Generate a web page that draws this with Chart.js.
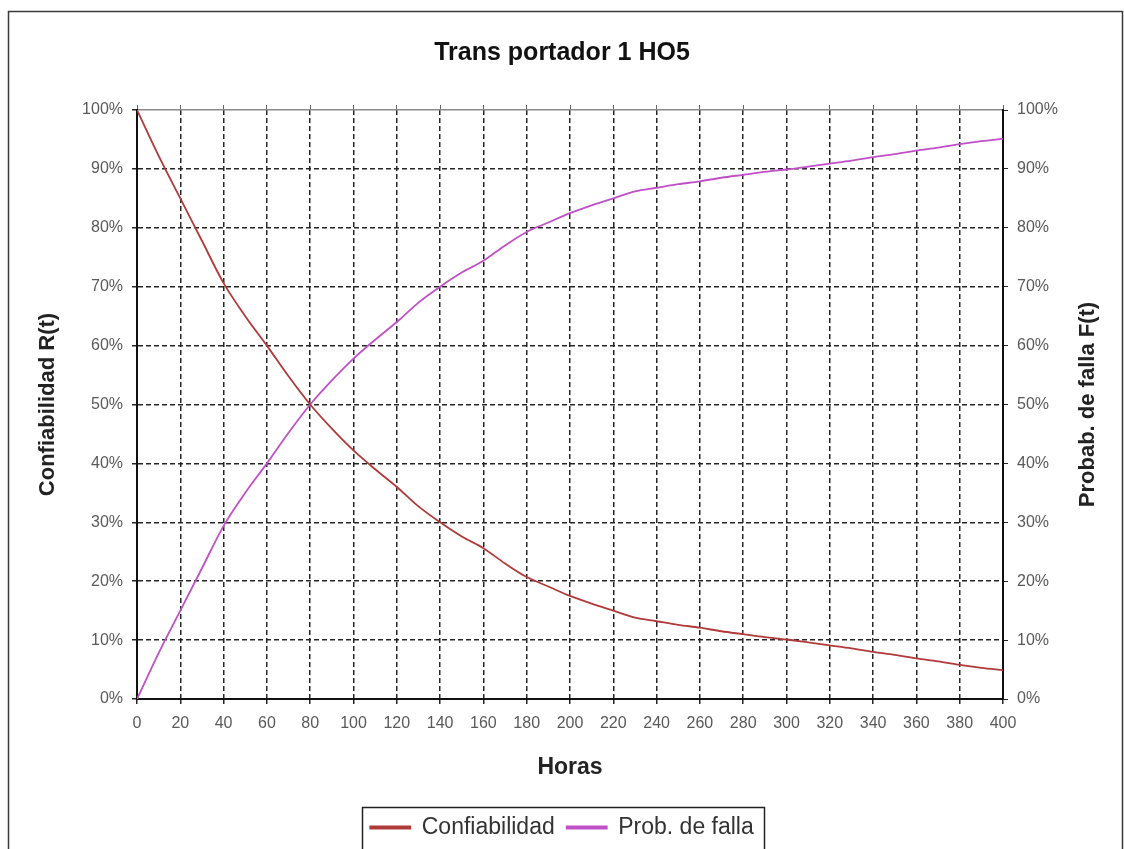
<!DOCTYPE html>
<html>
<head>
<meta charset="utf-8">
<script src="https://cdn.jsdelivr.net/npm/chart.js@4"></script>
<style>
    html, body { margin: 0; padding: 0; background: #fff; }
    canvas { display: block; }
</style>
</head>
<body>
<canvas id="curvas" width="1124" height="849"></canvas>
<script>
const horas = [0, 10, 20, 30, 40, 50, 60, 70, 80, 90, 100, 110, 120, 130, 140, 150, 160, 170, 180, 190, 200,
    210, 220, 230, 240, 250, 260, 270, 280, 290, 300, 310, 320, 330, 340, 350, 360, 370, 380, 390, 400];

const confiabilidad = [100, 92.2, 85.0, 77.8, 70.6, 65.0, 60.0, 54.8, 50.0, 45.9, 42.2, 39.0, 36.0, 32.7, 30.0,
    27.6, 25.6, 23.0, 20.7, 19.1, 17.5, 16.2, 15.0, 13.8, 13.2, 12.6, 12.1, 11.5, 11.0, 10.5, 10.1,
    9.6, 9.1, 8.6, 8.0, 7.5, 6.9, 6.4, 5.8, 5.3, 4.9];

const probFalla = [0, 7.8, 15.0, 22.2, 29.4, 35.0, 40.0, 45.2, 50.0, 54.1, 57.8, 61.0, 64.0, 67.3, 70.0,
    72.4, 74.4, 77.0, 79.3, 80.9, 82.5, 83.8, 85.0, 86.2, 86.8, 87.4, 87.9, 88.5, 89.0, 89.5, 89.9,
    90.4, 90.9, 91.4, 92.0, 92.5, 93.1, 93.6, 94.2, 94.7, 95.1];

const titulo = 'Trans portador 1 HO5';
const tituloX = 'Horas';
const tituloY = 'Confiabilidad R(t)';
const tituloY1 = 'Probab. de falla F(t)';

const FONT = "'Liberation Sans', Arial, sans-serif";
const GRID = '#262626';
const TICK_TEXT = '#5a5a5a';

const toPoints = (xs, ys) => xs.map((x, i) => ({ x: x, y: ys[i] }));

// outer frame of the chart object
const framePlugin = {
    id: 'frame',
    beforeDraw(chart) {
        const ctx = chart.ctx;
        ctx.save();
        ctx.fillStyle = '#fff';
        ctx.fillRect(0, 0, chart.width, chart.height);
        ctx.strokeStyle = '#3a3a3a';
        ctx.lineWidth = 1.5;
        ctx.strokeRect(8.5, 11.5, 1114, 900);
        ctx.restore();
    }
};

// box around legend + right axis title reading upwards
const extrasPlugin = {
    id: 'extras',
    afterDraw(chart) {
        const ctx = chart.ctx;
        const lg = chart.legend;
        if (lg && lg.legendHitBoxes && lg.legendHitBoxes.length) {
            const boxes = lg.legendHitBoxes;
            const left = Math.min(...boxes.map(b => b.left)) - 8;
            const right = Math.max(...boxes.map(b => b.left + b.width)) + 10;
            const cy = boxes[0].top + boxes[0].height / 2;
            ctx.save();
            ctx.strokeStyle = '#222';
            ctx.lineWidth = 1.5;
            ctx.strokeRect(Math.round(left) + 0.5, Math.round(cy - 21) + 0.5, Math.round(right - left), 60);
            ctx.restore();
        }

        const area = chart.chartArea;
        ctx.save();
        ctx.translate(1088, (area.top + area.bottom) / 2);
        ctx.rotate(-Math.PI / 2);
        ctx.font = 'bold 22px ' + FONT;
        ctx.fillStyle = '#222';
        ctx.textAlign = 'center';
        ctx.textBaseline = 'middle';
        ctx.fillText(tituloY1, 0, 0);
        ctx.restore();
    }
};

const ctx = document.getElementById('curvas').getContext('2d');

new Chart(ctx, {
    type: 'line',
    data: {
        datasets: [
            {
                label: 'Confiabilidad',
                data: toPoints(horas, confiabilidad),
                borderColor: '#b03a3a',
                backgroundColor: '#b03a3a',
                borderWidth: 1.8,
                pointRadius: 0,
                cubicInterpolationMode: 'monotone',
                yAxisID: 'y'
            },
            {
                label: 'Prob. de falla',
                data: toPoints(horas, probFalla),
                borderColor: '#c050c8',
                backgroundColor: '#c050c8',
                borderWidth: 1.8,
                pointRadius: 0,
                cubicInterpolationMode: 'monotone',
                yAxisID: 'y1'
            }
        ]
    },
    options: {
        responsive: false,
        animation: false,
        devicePixelRatio: 1,
        layout: { padding: 0 },
        plugins: {
            title: {
                display: true,
                text: titulo,
                color: '#111',
                font: { family: FONT, size: 25, weight: 'bold' },
                padding: { top: 38, bottom: 42 }
            },
            legend: {
                display: true,
                position: 'bottom',
                labels: {
                    color: '#333',
                    font: { family: FONT, size: 23 },
                    boxWidth: 40,
                    boxHeight: 2,
                    padding: 12
                }
            },
            tooltip: { enabled: false }
        },
        scales: {
            x: {
                type: 'linear',
                position: 'bottom',
                min: 0,
                max: 400,
                afterFit(scale) { scale.height = 105; },
                ticks: {
                    stepSize: 20,
                    color: TICK_TEXT,
                    font: { family: FONT, size: 16 },
                    padding: 10,
                    maxRotation: 0
                },
                grid: {
                    color: GRID,
                    lineWidth: 1.5,
                    tickColor: GRID,
                    tickLength: 5
                },
                border: { display: true, color: '#111', width: 2, dash: [5, 3] },
                title: {
                    display: true,
                    text: tituloX,
                    color: '#222',
                    font: { family: FONT, size: 23, weight: 'bold' },
                    padding: { top: 0, bottom: 23 }
                }
            },
            x2: {
                type: 'linear',
                position: 'top',
                min: 0,
                max: 400,
                afterFit(scale) { scale.height = 0; },
                ticks: { stepSize: 20, display: false },
                grid: { drawOnChartArea: false, tickColor: '#666', tickLength: 5 },
                border: { display: true, color: '#8a8a8a', width: 1.5 }
            },
            y: {
                type: 'linear',
                position: 'left',
                min: 0,
                max: 100,
                afterFit(scale) { scale.width = 137; },
                ticks: {
                    stepSize: 10,
                    color: TICK_TEXT,
                    font: { family: FONT, size: 16 },
                    padding: 9,
                    callback: v => v + '%'
                },
                grid: {
                    color: c => (c.tick && c.tick.value === 100) ? 'rgba(0,0,0,0)' : GRID,
                    lineWidth: 1.5,
                    tickColor: GRID,
                    tickLength: 5
                },
                border: { display: true, color: '#111', width: 2, dash: [5, 3] },
                title: {
                    display: true,
                    text: tituloY,
                    color: '#222',
                    font: { family: FONT, size: 22, weight: 'bold' },
                    padding: { top: 35, bottom: 0 }
                }
            },
            y1: {
                type: 'linear',
                position: 'right',
                min: 0,
                max: 100,
                afterFit(scale) { scale.width = 121; },
                ticks: {
                    stepSize: 10,
                    color: TICK_TEXT,
                    font: { family: FONT, size: 16 },
                    padding: 9,
                    callback: v => v + '%'
                },
                grid: {
                    drawOnChartArea: false,
                    tickColor: GRID,
                    tickLength: 5
                },
                border: { display: true, color: '#111', width: 2 }
            }
        }
    },
    plugins: [framePlugin, extrasPlugin]
});
</script>
</body>
</html>
